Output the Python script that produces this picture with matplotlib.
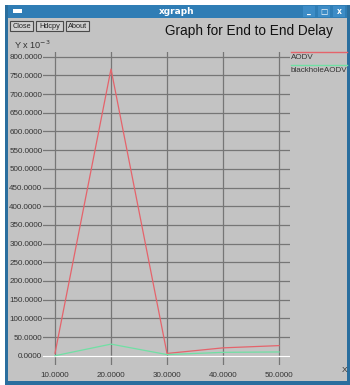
import matplotlib
matplotlib.use("Agg")
import matplotlib.pyplot as plt
from matplotlib.patches import Rectangle
from matplotlib.lines import Line2D

# ---- data ----
x_values = [10, 20, 30, 40, 50]
aodv = [6.5, 767, 6, 21, 27]
blackhole_aodv = [0, 31, 3, 9, 10]
y_ticks = [0, 50, 100, 150, 200, 250, 300, 350, 400, 450, 500, 550, 600, 650, 700, 750, 800]
x_ticks = [10, 20, 30, 40, 50]
title = "Graph for End to End Delay"
series_names = ["AODV", "blackholeAODV"]

W, H = 350, 385
plt.rcParams['font.family'] = ['Liberation Sans', 'DejaVu Sans']
fig = plt.figure(figsize=(W / 100, H / 100), dpi=100)
fig.patch.set_facecolor('white')

def fx(x):
    return x / W

def fy(y):
    return 1 - y / H

BG = '#c3c3c3'
BLUE = '#2f7db5'
RED = '#e5636b'
GREEN = '#70e0a4'
GRID = '#767676'

# window frame
fig.add_artist(Rectangle((fx(5), fy(385)), fx(345), 380 / H, transform=fig.transFigure,
                         facecolor='#2a6e9e', edgecolor='none', zorder=0))
fig.add_artist(Rectangle((fx(8), fy(18)), fx(339), 13 / H, transform=fig.transFigure,
                         facecolor=BLUE, edgecolor='none', zorder=0))
fig.add_artist(Rectangle((fx(8), fy(381)), fx(339), 363 / H, transform=fig.transFigure,
                         facecolor=BG, edgecolor='none', zorder=0))
# title bar elements
fig.text(fx(177), fy(11), "xgraph", color='white', fontsize=6.5, fontweight='bold',
         ha='center', va='center', family='DejaVu Sans')
fig.add_artist(Rectangle((fx(13), fy(13)), fx(9), 4 / H, transform=fig.transFigure,
                         facecolor='white', edgecolor='none'))
for bx, sym in [(309, '_'), (324, '□'), (339, 'x')]:
    fig.add_artist(Rectangle((fx(bx - 6), fy(17)), fx(12), 11 / H, transform=fig.transFigure,
                             facecolor='#3d8cc6', edgecolor='none'))
    fig.text(fx(bx), fy(11.5), sym, color='white', fontsize=5.5, fontweight='bold',
             ha='center', va='center', family='DejaVu Sans')

# buttons
for x0, x1, label in [(10, 33, "Close"), (36, 63, "Hdcpy"), (66, 89, "About")]:
    fig.add_artist(Rectangle((fx(x0), fy(31)), fx(x1 - x0), 10 / H, transform=fig.transFigure,
                             facecolor='#cfcfcf', edgecolor='#4a4a4a', linewidth=0.8))
    fig.text(fx((x0 + x1) / 2), fy(26), label, fontsize=5.3, ha='center', va='center',
             color='#222222')

fig.text(fx(249), fy(31), title, fontsize=9.8, ha='center', va='center', color='#111111')
fig.text(fx(14), fy(45), r"Y x 10$^{-3}$", fontsize=6.6, ha='left', va='center',
         color='#333333')
fig.text(fx(345), fy(370), "X", fontsize=6, ha='center', va='center', color='#333333')

# plot axes
ax = fig.add_axes([fx(43), fy(365), 247 / W, 313 / H])
ax.set_facecolor(BG)
for s in ax.spines.values():
    s.set_visible(False)
ax.set_xlim(10 - 12 / 5.6, 50 + 11 / 5.6)
ax.set_ylim(0 - 9.3 / 0.37375, 800 + 4.7 / 0.37375)
ax.set_xticks(x_ticks)
ax.set_xticklabels([f"{v:.4f}" for v in x_ticks])
ax.set_yticks(y_ticks)
ax.set_yticklabels([f"{v:.4f}" for v in y_ticks])
ax.tick_params(length=0, labelsize=5.8, colors='#333333')
ax.tick_params(axis='y', pad=0.5)
ax.tick_params(axis='x', pad=5)
ax.grid(True, color=GRID, linewidth=0.9)
ax.axhline(0, color='white', linewidth=1.0, zorder=1.5)
ax.set_axisbelow(True)

ax.plot(x_values, aodv, color=RED, linewidth=0.9, zorder=3)
ax.plot(x_values, blackhole_aodv, color=GREEN, linewidth=0.9, zorder=3)

# legend (xgraph style)
for (ly, ty, c, name) in [(52.3, 57.5, RED, series_names[0]), (64.5, 70, GREEN, series_names[1])]:
    fig.add_artist(Line2D([fx(291), fx(347)], [fy(ly), fy(ly)], transform=fig.transFigure,
                          color=c, linewidth=1.0))
    fig.text(fx(291), fy(ty), name, fontsize=5.8, ha='left', va='center', color='#333333')

fig.savefig("out.png", dpi=100, facecolor=fig.get_facecolor())
